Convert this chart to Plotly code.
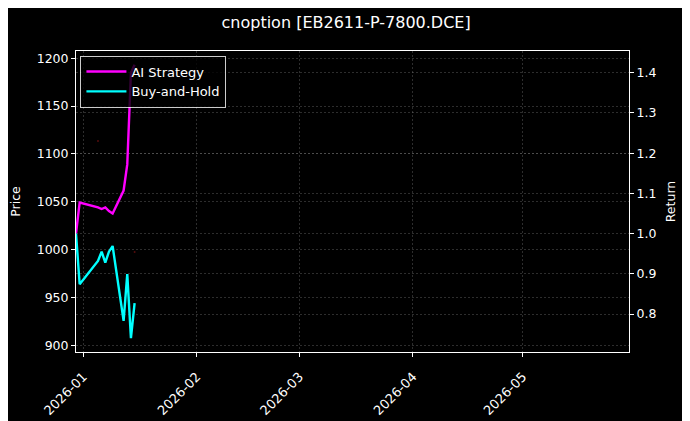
import plotly.graph_objects as go

# data -------------------------------
dates = ["2025-12-30", "2025-12-31", "2026-01-05", "2026-01-06", "2026-01-07",
         "2026-01-08", "2026-01-09", "2026-01-12", "2026-01-13", "2026-01-14",
         "2026-01-15"]
ai_strategy = [1.00, 1.077, 1.065, 1.061, 1.065, 1.056, 1.050, 1.107, 1.172, 1.40, 1.42]
buy_hold = [1.00, 0.874, 0.932, 0.955, 0.928, 0.955, 0.969, 0.783, 0.899, 0.740, 0.827]

price_dates = ["2026-01-05", "2026-01-15"]
price = [1113.5, 997.5]

fig = go.Figure()

# faint price marks on left axis
fig.add_trace(go.Scatter(
    x = price_dates, y = price,
    mode = "markers",
    marker = dict(color = "rgba(140,20,20,0.6)", size = 2),
    showlegend = False,
    hoverinfo = "skip",
    yaxis = "y"
))
fig.add_trace(go.Scatter(
    x = dates, y = ai_strategy,
    mode = "lines", name = "AI Strategy",
    line = dict(color = "#ff00ff", width = 2.4),
    yaxis = "y2"
))
fig.add_trace(go.Scatter(
    x = dates, y = buy_hold,
    mode = "lines", name = "Buy-and-Hold",
    line = dict(color = "#00ffff", width = 2.4),
    yaxis = "y2"
))

grid = "rgba(150,150,150,0.3)"
axis_style = dict(
    showline = True, linecolor = "white", linewidth = 1,
    ticks = "outside", tickcolor = "white", ticklen = 4,
    showgrid = True, gridcolor = grid, griddash = "2px,2px", gridwidth = 0.6,
    zeroline = False, automargin = False
)
# page body adds an 8px offset, margins below account for it
fig.update_layout(
    width = 690,
    height = 421,
    paper_bgcolor = "black",
    plot_bgcolor = "black",
    font = dict(family = "DejaVu Sans", size = 12, color = "white"),
    title = dict(
        text = "cnoption [EB2611-P-7800.DCE]",
        x = 0.49, y = 0.966, xanchor = "center", yanchor = "middle",
        font = dict(size = 16, color = "white")
    ),
    margin = dict(l = 68, r = 69, t = 43, b = 77),
    xaxis = dict(
        type = "date",
        range = ["2025-12-30", "2026-05-30"],
        tickvals = ["2026-01-01", "2026-02-01", "2026-03-01", "2026-04-01", "2026-05-01"],
        ticktext = ["2026-01", "2026-02", "2026-03", "2026-04", "2026-05"],
        tickangle = -45,
        ticklabelstandoff = 7,
        tickfont = dict(size = 13, color = "white"),
        mirror = True,
        **axis_style
    ),
    yaxis = dict(
        title = dict(text = "Price", standoff = 18, font = dict(size = 12.5)),
        range = [893, 1207.6],
        tickvals = [900, 950, 1000, 1050, 1100, 1150, 1200],
        tickfont = dict(size = 12.5, color = "white"),
        **axis_style
    ),
    yaxis2 = dict(
        title = dict(text = "Return", standoff = 10, font = dict(size = 12.5)),
        overlaying = "y", side = "right",
        range = [0.7055, 1.454],
        tickvals = [0.8, 0.9, 1.0, 1.1, 1.2, 1.3, 1.4],
        ticktext = ["0.8", "0.9", "1.0", "1.1", "1.2", "1.3", "1.4"],
        tickfont = dict(size = 12.5, color = "white"),
        **axis_style
    ),
    legend = dict(
        x = 0.008, y = 0.985, xanchor = "left", yanchor = "top",
        bgcolor = "rgba(0,0,0,0.8)",
        bordercolor = "rgba(255,255,255,0.8)", borderwidth = 1,
        font = dict(size = 13, color = "white"),
        tracegroupgap = 0, itemwidth = 40
    )
)
fig.write_html("out.html")
